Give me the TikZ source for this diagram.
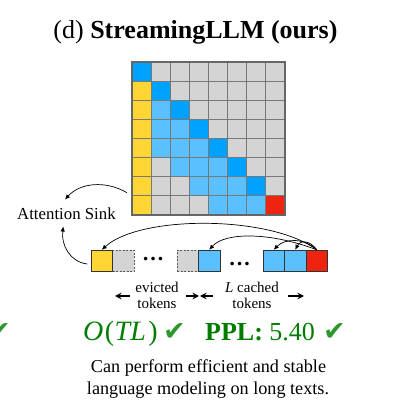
\documentclass[tikz,border=0pt]{standalone}
\usepackage{fontspec}
\setmainfont{Liberation Serif}
\newfontfamily\symfont{DejaVu Sans}
\usetikzlibrary{arrows.meta}
\definecolor{cyell}{RGB}{255,214,51}
\definecolor{cdblue}{RGB}{0,162,255}
\definecolor{clblue}{RGB}{90,192,255}
\definecolor{cgrey}{RGB}{212,212,212}
\definecolor{cred}{RGB}{236,36,16}
\definecolor{cgrid}{RGB}{120,120,120}
\definecolor{cgreen}{RGB}{0,125,0}
\definecolor{ccheck}{RGB}{45,150,45}
\tikzset{
  tok/.style={draw=black!80, line width=0.9pt, minimum size=21.5pt, inner sep=0pt},
  tokdash/.style={draw=black!65, dashed, dash pattern=on 2pt off 1.5pt, line width=0.8pt, minimum size=21.5pt, inner sep=0pt, fill=cgrey},
  sarr/.style={-{Latex[length=5pt,width=4.5pt]}, line width=0.7pt},
  barr/.style={-{Stealth[length=6.5pt,width=6.5pt]}, line width=1.3pt},
  chk/.style={inner sep=0pt, anchor=base west, text=ccheck, font=\symfont\fontsize{27}{27}\selectfont},
}
\begin{document}
\begin{tikzpicture}[x=1pt,y=-1pt]
\useasboundingbox (0,0) rectangle (416,409);
% title
\node[anchor=base, inner sep=0pt, font=\fontsize{26}{30}\selectfont] (title) at (195.5,38.5) {(d) \textbf{StreamingLLM (ours)}};
% attention matrix
\foreach \r in {0,...,7}{
  \foreach \c in {0,...,7}{
    \def\cc{cgrey}
    \ifnum\c<\r \ifnum\c>\numexpr\r-4\relax \def\cc{clblue}\fi\fi
    \ifnum\c=0 \ifnum\r>0 \def\cc{cyell}\fi\fi
    \ifnum\c=\r \def\cc{cdblue}\fi
    \ifnum\r=7 \ifnum\c=7 \def\cc{cred}\fi\fi
    \fill[\cc] ({132+\c*19.125},{62+\r*19.125}) rectangle ++(19.125,19.125);
  }}
\foreach \i in {1,...,7}{
  \draw[cgrid, line width=1pt] ({132+\i*19.125},62) -- ({132+\i*19.125},215);
  \draw[cgrid, line width=1pt] (132,{62+\i*19.125}) -- (285,{62+\i*19.125});
}
\draw[black!60, line width=1.2pt] (132,62) rectangle (285,215);
% attention sink label
\node[anchor=base west, inner sep=0pt, font=\fontsize{16.8}{20}\selectfont] (sink) at (17,219.5) {Attention Sink};
\coordinate (mleft) at (127,192.7);
\coordinate (sinkT) at (65,199.5);
\coordinate (sinkB) at (63.3,226.5);
% token row
\node[tokdash] (g1) at (123.25,261) {};
\node[tokdash] (g2) at (187.75,261) {};
\node[tok, fill=cyell] (t1) at (101.75,261) {};
\node[tok, fill=clblue] (b1) at (209.25,261) {};
\node[tok, fill=clblue] (b2) at (273.75,261) {};
\node[tok, fill=clblue] (b3) at (295.25,261) {};
\node[tok, fill=cred] (tr) at (316.75,261) {};
\node[anchor=base, inner sep=0pt, font=\bfseries\fontsize{22}{22}\selectfont] (d1) at (153,261) {…};
\node[anchor=base, inner sep=0pt, font=\bfseries\fontsize{22}{22}\selectfont] (d2) at (239.5,266) {…};
\coordinate (t1L) at (87.3,264);
% arrows to attention sink
\draw[sarr] (mleft) .. controls (105,180) and (80,183) .. (sinkT);
\draw[sarr] (t1L) .. controls (70,262) and (61,245) .. (sinkB);
% attention arcs from the current token
\draw[sarr] (tr.north) .. controls (270,215) and (140,215) .. (t1.north);
\draw[sarr] (tr.north) .. controls (270,232) and (225,232) .. (b1.north);
\draw[sarr] (tr.north) .. controls (305,238) and (285,238) .. (b2.north);
\draw[sarr] (tr.north) .. controls (310,240) and (300,240) .. (b3.north);
% labels under the tokens
\node[align=center, inner sep=0pt, font=\fontsize{15}{15.6}\selectfont] (ev) at (157,295.4) {evicted\\tokens};
\node[align=center, inner sep=0pt, font=\fontsize{15}{15.6}\selectfont] (ca) at (252,295.4) {\textit{L} cached\\tokens};
\coordinate (evA1) at (130,296); \coordinate (evA2) at (115,296);
\coordinate (evB1) at (186,296); \coordinate (evB2) at (199,296);
\coordinate (caA1) at (213,296); \coordinate (caA2) at (200,296);
\coordinate (caB1) at (288,296); \coordinate (caB2) at (304,296);
\draw[barr] (evA1) -- (evA2);
\draw[barr] (evB1) -- (evB2);
\draw[barr] (caA1) -- (caA2);
\draw[barr] (caB1) -- (caB2);
% complexity and perplexity
\node[chk] (chk0) at (-12,341) {✔};
\node[anchor=base west, inner sep=0pt, text=cgreen, font=\fontsize{28}{30}\selectfont] (otl) at (83,340.7) {\textit{O}\kern1.5pt(\kern0.5pt\textit{TL}\kern2.5pt)};
\node[chk] (chk1) at (163,341) {✔};
\node[anchor=base west, inner sep=0pt, text=cgreen, font=\fontsize{26}{30}\selectfont] (ppl) at (205,340.7) {\textbf{PPL:} 5.40};
\node[chk] (chk2) at (323,341) {✔};
% caption
\node[anchor=base, inner sep=0pt, font=\fontsize{18.2}{22}\selectfont] (cap1) at (208.5,372.7) {Can perform efficient and stable};
\node[anchor=base, inner sep=0pt, font=\fontsize{18.2}{22}\selectfont] (cap2) at (208,395) {language modeling on long texts.};
\end{tikzpicture}
\end{document}
